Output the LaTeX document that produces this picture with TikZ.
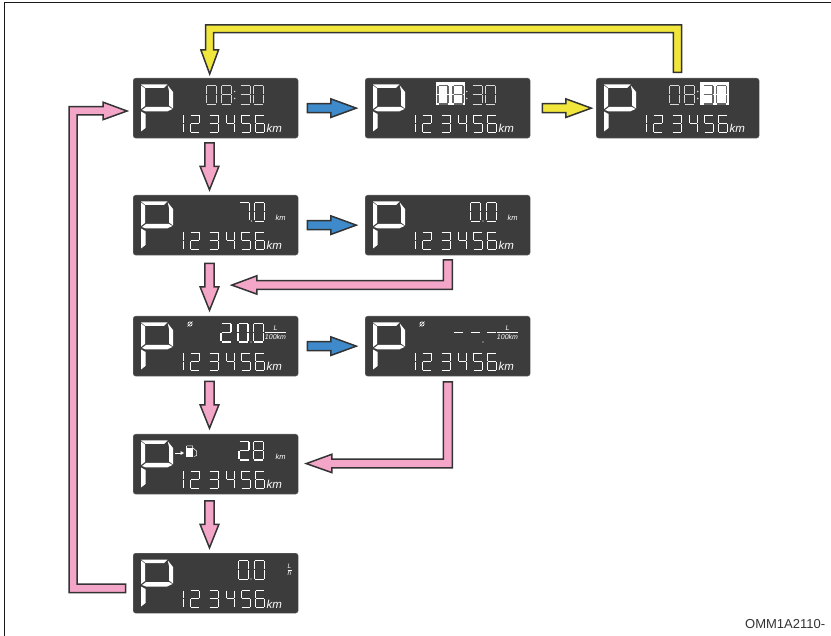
\documentclass[tikz,border=0pt]{standalone}
\usepackage{fontspec}
\setmainfont{Liberation Sans}
\usetikzlibrary{calc}
\definecolor{lcd}{HTML}{3C3C3C}
\definecolor{pinkA}{HTML}{F4A6C8}
\definecolor{blueA}{HTML}{3E8ACB}
\definecolor{yellowA}{HTML}{F0E63C}
\tikzset{
  x=1pt,y=-1pt,
  panel/.style={anchor=north west,fill=lcd,draw=lcd!70!white,line width=0.3pt,rounded corners=2.5pt,minimum width=165pt,minimum height=60pt,inner sep=0pt},
  blockarrow/.style={draw=black!80,line width=1.5pt,line join=miter,fill=#1},
  sseg/.style={line width=0.9pt,line cap=butt},
  hiseg/.style={line width=1.1pt,black!60},
  lab/.style={text=white,inner sep=0pt,font=\itshape},
}
% seven-segment digit: x y w h segments colour
\newcommand\sevenseg[6]{%
  \begin{scope}[shift={(#1,#2)}]
    \foreach \s in #5 {%
      \ifnum\s=1 \draw[sseg,#6] (0.5,0)--(#3-0.5,0);\fi
      \ifnum\s=2 \draw[sseg,#6] (#3,0.5)--(#3,#4/2-0.5);\fi
      \ifnum\s=3 \draw[sseg,#6] (#3,#4/2+0.5)--(#3,#4-0.5);\fi
      \ifnum\s=4 \draw[sseg,#6] (0.5,#4)--(#3-0.5,#4);\fi
      \ifnum\s=5 \draw[sseg,#6] (0,#4/2+0.5)--(0,#4-0.5);\fi
      \ifnum\s=6 \draw[sseg,#6] (0,0.5)--(0,#4/2-0.5);\fi
      \ifnum\s=7 \draw[sseg,#6] (0.5,#4/2)--(#3-0.5,#4/2);\fi
    }%
  \end{scope}}
\def\dzero{1,2,3,4,5,6}\def\done{2,3}\def\dtwo{1,2,7,5,4}\def\dthree{1,2,7,3,4}
\def\dfour{6,7,2,3}\def\dfive{1,6,7,3,4}\def\dsix{1,6,7,5,3,4}\def\dseven{1,2,3}\def\deight{1,2,3,4,5,6,7}
\newcommand\bigdig[3]{\sevenseg{#1}{7.5}{10}{18.5}{#2}{#3}}
\newcommand\pdot[3]{\fill[#3] (#1,#2) circle (0.7);}
% common contents: big P, odometer
\newcommand\lcdbase{%
  \fill[white] (8,6.5)--(34.5,6.5)--(31,10)--(12.5,10)--cycle;
  \fill[white] (8,7.5)--(12,10.5)--(12,28)--(8,31)--cycle;
  \fill[white] (34.8,7.5)--(40,14)--(40,30.5)--(36,27.5)--(36,13)--cycle;
  \fill[white] (9,32)--(13,29)--(36,29)--(39.5,31)--(34,33.5)--(13,33.5)--cycle;
  \fill[white] (8,33.5)--(12.5,36)--(12.5,50)--(8,53.5)--cycle;
  \sevenseg{41}{37}{9}{17.5}{\done}{line width=0.9pt,white}
  \sevenseg{57}{37}{9}{17.5}{\dtwo}{line width=0.9pt,white}
  \sevenseg{76}{37}{9}{17.5}{\dthree}{line width=0.9pt,white}
  \sevenseg{93}{37}{8}{17.5}{\dfour}{line width=0.9pt,white}
  \sevenseg{108}{37}{9}{17.5}{\dfive}{line width=0.9pt,white}
  \sevenseg{122}{37}{9}{17.5}{\dsix}{line width=0.9pt,white}
  \node[lab,anchor=base west,font=\itshape\fontsize{11.5}{11.5}\selectfont] at (133.5,55) {km};
}
\newcommand\clock[2]{%
  \sevenseg{73}{7.5}{10}{18.5}{\dzero}{#1}
  \sevenseg{88}{7.5}{10}{18.5}{\deight}{#1}
  \fill[white!85!black] (101.7,13.5) circle (0.8) (101.7,20.5) circle (0.8);
  \sevenseg{107}{7.5}{10}{18.5}{\dthree}{#2}
  \sevenseg{120.7}{7.5}{10}{18.5}{\dzero}{#2}
}
\newcommand\smallkm{\node[lab,anchor=base west,font=\itshape\fontsize{7.5}{7.5}\selectfont] at (142.5,25.5) {km};}
\newcommand\fraclh{%
  \draw[white,line width=0.5pt] (132,16)--(153,16);
  \node[lab,font=\itshape\fontsize{7}{7}\selectfont] at (142.5,12) {L};
  \node[lab,font=\itshape\fontsize{7}{7}\selectfont] at (142.5,20.5) {100km};
}
\newcommand\avg{%
  \draw[white,line width=0.7pt] (57,8) circle (2.1);
  \draw[white,line width=0.6pt] (54.5,10.5)--(59.5,5.5);
}
\begin{document}
\begin{tikzpicture}
\useasboundingbox (0,0) rectangle (831,636);
\fill[white] (0,0) rectangle (831,636);
\draw[black!90,line width=1pt] (4.5,636)--(4.5,2.5)--(831,2.5);
% panels
\node[panel] (p1) at (133,78) {};
\node[panel] (p2) at (365,78) {};
\node[panel,minimum width=163pt] (p3) at (596,78) {};
\node[panel] (p4) at (133,195) {};
\node[panel] (p5) at (365,195) {};
\node[panel] (p6) at (133,316) {};
\node[panel] (p7) at (365,316) {};
\node[panel] (p8) at (133,434) {};
\node[panel] (p9) at (133,553) {};
% panel contents
\begin{scope}[shift={(p1.north west)}]\lcdbase\clock{white!85!black}{white!85!black}\end{scope}
\begin{scope}[shift={(p2.north west)}]
  \fill[white] (71,4.3) rectangle (99.5,27.3);
  \lcdbase\clock{hiseg}{white!85!black}
\end{scope}
\begin{scope}[shift={(p3.north west)}]
  \fill[white] (104,4.3) rectangle (132.5,27.3);
  \lcdbase\clock{white!85!black}{hiseg}
\end{scope}
\begin{scope}[shift={(p4.north west)}]\lcdbase
  \sevenseg{106}{7.5}{10}{18.5}{\dseven}{white}\pdot{118.5}{26}{white}
  \bigdig{121}{\dzero}{white}\smallkm\end{scope}
\begin{scope}[shift={(p5.north west)}]\lcdbase
  \bigdig{105}{\dzero}{white}\pdot{118}{26}{white}
  \bigdig{121}{\dzero}{white}\smallkm\end{scope}
\begin{scope}[shift={(p6.north west)}]\lcdbase\avg
  \bigdig{88}{\dtwo}{line width=1.2pt,white}
  \bigdig{105}{\dzero}{line width=1.2pt,white}\pdot{118}{26}{white}
  \bigdig{120.5}{\dzero}{line width=1.2pt,white}\fraclh\end{scope}
\begin{scope}[shift={(p7.north west)}]\lcdbase\avg
  \draw[white,line width=1.6pt] (89,16.5)--(98,16.5) (106,16.5)--(115,16.5) (122,16.5)--(131,16.5);
  \pdot{118}{26}{white}\fraclh\end{scope}
\begin{scope}[shift={(p8.north west)}]\lcdbase
  \bigdig{106}{\dtwo}{line width=1.1pt,white}
  \bigdig{120.5}{\deight}{line width=1.1pt,white}\smallkm
  \draw[white,line width=0.7pt] (42,19)--(48,19);
  \fill[white] (51,19)--(47.5,17)--(47.5,21)--cycle;
  \fill[white] (53,14.5) rectangle (60,23.5);
  \draw[white,line width=0.5pt] (53.5,12)--(59.5,12)--(59.5,14.5) (60,14)--(63.5,17)--(63.5,21.5)--(61,22.5);
  \draw[white,line width=0.5pt] (53.5,12)--(53.5,14.5);
\end{scope}
\begin{scope}[shift={(p9.north west)}]\lcdbase
  \bigdig{105}{\dzero}{white}\pdot{118}{26}{white}
  \bigdig{121}{\dzero}{white}
  \node[lab,font=\itshape\fontsize{6.5}{6.5}\selectfont] at (156.5,13.5) {L};
  \draw[white,line width=0.4pt] (154.5,17)--(158.5,17);
  \node[lab,font=\itshape\fontsize{6.5}{6.5}\selectfont] at (156.5,20.5) {h};
\end{scope}
% right-pointing arrows: start anchor then relative outline
\newcommand\rarrow[2]{\draw[blockarrow=#2] (#1) ++(0,-4.5)--++(23.5,0)--++(0,-4.8)--++(25.5,9.3)--++(-25.5,9.3)--++(0,-4.8)--++(-23.5,0)--cycle;}
\newcommand\darrow[1]{\draw[blockarrow=pinkA] (#1) ++(-4.6,0)--++(0,23.5)--++(-4.8,0)--++(9.4,23.5)--++(9.4,-23.5)--++(-4.8,0)--++(0,-23.5)--cycle;}
\rarrow{$(p1.east)+(9,0)$}{blueA}
\rarrow{$(p4.east)+(9,0)$}{blueA}
\rarrow{$(p6.east)+(9,0)$}{blueA}
\rarrow{$(p2.east)+(12,0)$}{yellowA}
\darrow{$(p1.south west)+(76.5,4.5)$}
\darrow{$(p4.south west)+(76.5,8)$}
\darrow{$(p6.south west)+(76.5,5)$}
\darrow{$(p8.south west)+(76.5,6.5)$}
% p5 -> p6 row
\draw[blockarrow=pinkA] ($(p5.south west)+(78.3,4.5)$) --++(9,0)--++(0,29.5)--++(-195.5,0)--++(0,4.8)--++(-25,-9)--++(25,-9.3)--++(0,4.8)--++(186.5,0)--cycle;
% p7 -> p8
\draw[blockarrow=pinkA] ($(p7.south west)+(78.3,5.5)$) --++(9,0)--++(0,86)--++(-120.5,0)--++(0,4.8)--++(-25.5,-9)--++(25.5,-9.3)--++(0,4.8)--++(111.5,0)--cycle;
% p3 -> p1 yellow loop
\draw[blockarrow=yellowA] ($(p3.north west)+(77.3,-5.5)$) --++(8.4,0)--++(0,-47.5)--++(-476,0)--++(0,25)--++(-4.8,0)--++(8.8,24)--++(8.8,-24)--++(-4.9,0)--++(0,-17.3)--++(459.7,0)--cycle;
% p9 -> p1 long pink
\draw[blockarrow=pinkA] ($(p9.north west)+(-7.5,31)$) --++(0,8.7)--++(-56.5,0)--++(0,-486)--++(34,0)--++(0,-4.5)--++(24,8.8)--++(-24,8.7)--++(0,-4.7)--++(-26,0)--++(0,469)--cycle;
\node[anchor=west,inner sep=0pt,text=black!80,font=\fontsize{13}{13}\selectfont] (code) at (745,624) {OMM1A2110-};
\end{tikzpicture}
\end{document}
